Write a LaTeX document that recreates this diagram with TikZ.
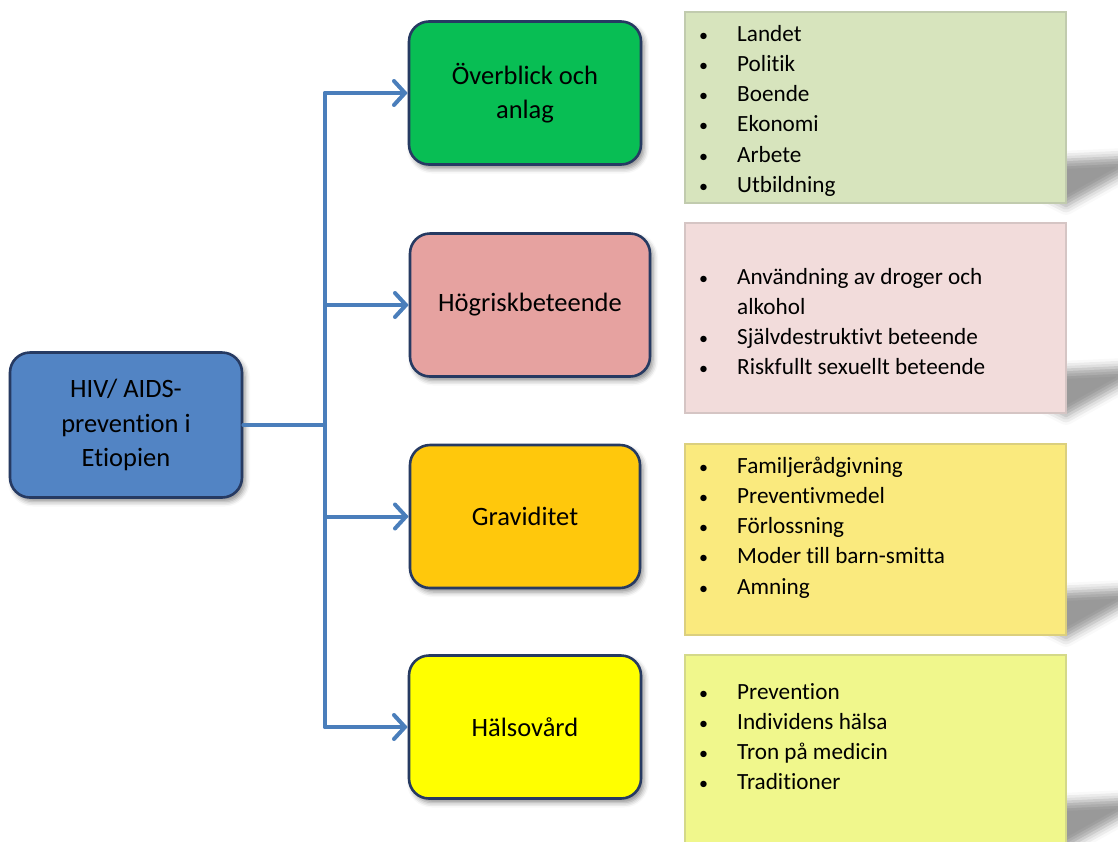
\documentclass[tikz,border=0pt]{standalone}
\usepackage{fontspec}
\setmainfont{Carlito}[Ligatures=CommonOff]
\usetikzlibrary{arrows.meta,shadows.blur}
\definecolor{rootblue}{RGB}{82,132,196}
\definecolor{boxgreen}{RGB}{8,190,84}
\definecolor{boxpink}{RGB}{230,162,160}
\definecolor{boxorange}{RGB}{255,200,12}
\definecolor{boxyellow}{RGB}{255,255,0}
\definecolor{edgenavy}{RGB}{38,58,98}
\definecolor{linkblue}{RGB}{74,126,187}
\definecolor{pgreen}{RGB}{215,228,189}
\definecolor{ppink}{RGB}{242,220,219}
\definecolor{pyellow}{RGB}{250,234,126}
\definecolor{plime}{RGB}{240,247,140}
\newcommand{\blt}{{\fontsize{18}{18}\selectfont\textbullet}}
\begin{document}
\begin{tikzpicture}[x=1pt,y=-1pt,
  topicbox/.style={draw=edgenavy, line width=2.6pt, rounded corners=20pt,
    minimum height=143pt, align=center, inner sep=4pt,
    font=\fontsize{26.5}{34.5}\selectfont,
    blur shadow={shadow xshift=3pt, shadow yshift=-4pt, shadow blur radius=5pt, shadow opacity=45}},
  panelbox/.style={draw=#1!75!gray, line width=1.1pt, fill=#1, minimum width=381pt},
  paneltext/.style={anchor=base west, inner sep=0pt, font=\fontsize{23.2}{30.3}\selectfont},
  link/.style={draw=linkblue, line width=4pt, line cap=round, line join=round},
  tip/.style={-{Straight Barb[length=11pt,width=24pt,line cap=round]}},
  softshadow/.style={blur shadow={shadow xshift=0pt, shadow yshift=0pt, shadow blur radius=9pt, shadow opacity=40}}
]
\useasboundingbox (0,0) rectangle (1118,841);
\clip (0,0) rectangle (1118,841);

% panel shadows
\foreach \b in {203,413,635,845}{
  \path[softshadow]
    (1040,\b-42) -- (1125,\b-46) -- (1125,\b-30) -- (1066,\b+3) -- (1040,\b-10) -- cycle;
}

% panels
\node[panelbox=pgreen, minimum height=191pt] (p1) at (875.5,107.5) {};
\node[panelbox=ppink, minimum height=190pt] (p2) at (875.5,318) {};
\node[panelbox=pyellow, minimum height=191pt] (p3) at (875.5,539.5) {};
\node[panelbox=plime, minimum height=190pt] (p4) at (875.5,750) {};

\node[paneltext] (t1) at (699,41) {\begin{tabular}[t]{@{}p{38pt}@{}l@{}}
\blt & Landet\\
\blt & Politik\\
\blt & Boende\\
\blt & Ekonomi\\
\blt & Arbete\\
\blt & Utbildning
\end{tabular}};
\node[paneltext] (t2) at (699,284) {\begin{tabular}[t]{@{}p{38pt}@{}l@{}}
\blt & Användning av droger och\\
 & alkohol\\
\blt & Självdestruktivt beteende\\
\blt & Riskfullt sexuellt beteende
\end{tabular}};
\node[paneltext] (t3) at (699,473) {\begin{tabular}[t]{@{}p{38pt}@{}l@{}}
\blt & Familjerådgivning\\
\blt & Preventivmedel\\
\blt & Förlossning\\
\blt & Moder till barn-smitta\\
\blt & Amning
\end{tabular}};
\node[paneltext] (t4) at (699,699) {\begin{tabular}[t]{@{}p{38pt}@{}l@{}}
\blt & Prevention\\
\blt & Individens hälsa\\
\blt & Tron på medicin\\
\blt & Traditioner
\end{tabular}};

% topic boxes
\node[topicbox, fill=rootblue, minimum width=232pt, minimum height=145pt] (root) at (126,425) {HIV/ AIDS-\\prevention i\\Etiopien};
\node[topicbox, fill=boxgreen, minimum width=232pt] (b1) at (525,93) {Överblick och\\anlag};
\node[topicbox, fill=boxpink, minimum width=240pt] (b2) at (530,305) {Högriskbeteende};
\node[topicbox, fill=boxorange, minimum width=230pt] (b3) at (525,516.5) {Graviditet};
\node[topicbox, fill=boxyellow, minimum width=232pt] (b4) at (525,727) {Hälsovård};

% connectors
\coordinate (spine) at (325,425);
\draw[link] (root.east) -- (spine);
\draw[link] (spine |- b1.west) -- (spine |- b4.west);
\draw[link, tip] (spine |- b1.west) -- (b1.west);
\draw[link, tip] (spine |- b2.west) -- (b2.west);
\draw[link, tip] (spine |- b3.west) -- (b3.west);
\draw[link, tip] (spine |- b4.west) -- (b4.west);
\end{tikzpicture}
\end{document}
